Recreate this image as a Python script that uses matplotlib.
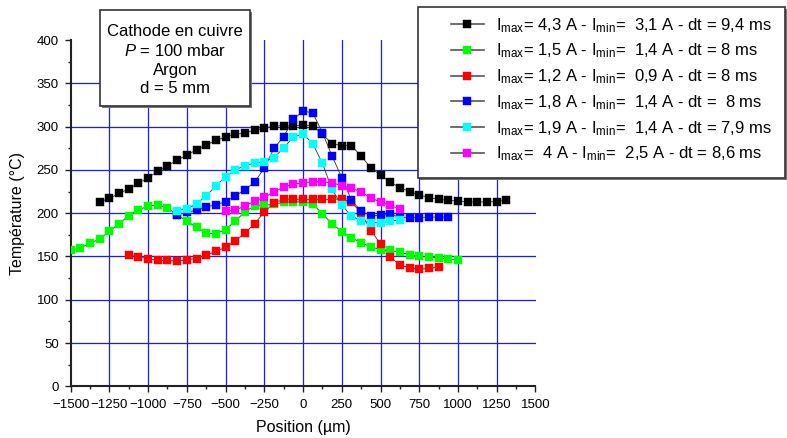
import matplotlib
matplotlib.use("Agg")
from matplotlib import pyplot as plt
from matplotlib.patches import Rectangle

plt.rcParams['font.family'] = ['Liberation Sans', 'DejaVu Sans']
plt.rcParams['mathtext.fontset'] = 'custom'
plt.rcParams['mathtext.rm'] = 'Liberation Sans'
plt.rcParams['mathtext.it'] = 'Liberation Sans:italic'

# measurement positions (um), 62.5 um step
positions = [-1500, -1437.5, -1375, -1312.5, -1250, -1187.5, -1125, -1062.5,
             -1000, -937.5, -875, -812.5, -750, -687.5, -625, -562.5, -500,
             -437.5, -375, -312.5, -250, -187.5, -125, -62.5, 0, 62.5, 125,
             187.5, 250, 312.5, 375, 437.5, 500, 562.5, 625, 687.5, 750,
             812.5, 875, 937.5, 1000, 1062.5, 1125, 1187.5, 1250, 1312.5,
             1375, 1437.5, 1500]

# temperatures (deg C), first position of each series
start_black = -1312.5
temp_black = [213, 217, 223, 228, 234.5, 241, 248.5, 255, 261, 267.5, 273, 279,
              284, 288, 291, 293, 296, 298, 301, 301, 301, 302, 301, 291, 280.5,
              278, 278, 266, 252.5, 244, 236, 229.5, 225, 221, 218, 216, 215,
              214, 213, 213, 213, 213.5, 215]

start_green = -1500
temp_green = [157, 160, 165, 170.5, 179, 188, 197, 204, 208, 209.5, 206, 198,
              191, 183.5, 177, 176.5, 181, 191, 201.5, 208.5, 209, 210.5, 212.5,
              213, 213, 211, 199, 188, 178.5, 171.5, 166, 161, 158, 157, 155,
              152, 150.5, 149.5, 148.5, 147, 146.5]

start_red = -1125
temp_red = [151.5, 149.5, 147.5, 145.5, 145.5, 144.5, 146.5, 147.5, 151.5, 156,
            160.5, 168, 177, 188, 201, 212, 216, 216, 216, 216, 216, 216, 216.5,
            212.5, 200.5, 180, 164.5, 149.5, 140, 137, 135, 136.5, 137.5]

start_blue = -812.5
temp_blue = [198, 201, 203.5, 207.5, 209.5, 213.5, 220, 227, 236, 252, 275,
             288.5, 308.5, 318, 316, 293, 266, 241, 215, 202.5, 197, 197.5,
             198.5, 195.5, 195, 195, 195.5, 195.5, 195.5]

start_cyan = -812.5
temp_cyan = [203, 205, 211, 220, 231.5, 242, 250, 255, 258, 259.5, 264, 275.5,
             288, 291.5, 280.5, 257.5, 227.5, 209, 197, 191, 189, 189, 190.5,
             192.5]

start_magenta = -500
temp_magenta = [202, 203.5, 208.5, 214, 218.5, 224.5, 230.5, 234, 235, 236.5,
                236.5, 235, 232, 229, 224.5, 217.5, 213, 209, 205]

labels = [r'I$_{\rm max}$= 4,3 A - I$_{\rm min}$=  3,1 A - dt = 9,4 ms',
          r'I$_{\rm max}$= 1,5 A - I$_{\rm min}$=  1,4 A - dt = 8 ms',
          r'I$_{\rm max}$= 1,2 A - I$_{\rm min}$=  0,9 A - dt = 8 ms',
          r'I$_{\rm max}$= 1,8 A - I$_{\rm min}$=  1,4 A - dt =  8 ms',
          r'I$_{\rm max}$= 1,9 A - I$_{\rm min}$=  1,4 A - dt = 7,9 ms',
          r'I$_{\rm max}$=  4 A - I$_{\rm min}$=  2,5 A - dt = 8,6 ms']

xticks = [-1500, -1250, -1000, -750, -500, -250, 0, 250, 500, 750, 1000, 1250, 1500]
yticks = [0, 50, 100, 150, 200, 250, 300, 350, 400]

series = [(start_black, temp_black, '#000000'),
          (start_green, temp_green, '#00ff00'),
          (start_red, temp_red, '#ff0000'),
          (start_blue, temp_blue, '#0000ff'),
          (start_cyan, temp_cyan, '#00ffff'),
          (start_magenta, temp_magenta, '#ff00ff')]

W, H = 787, 438
fig = plt.figure(figsize=(W / 100, H / 100), dpi=100)
ax = fig.add_axes([70.6 / W, 1 - 386.3 / H, (535.5 - 70.6) / W, (386.3 - 40.1) / H])

# grid (interior lines only, edges are the axes)
for v in xticks[1:-1]:
    ax.axvline(v, color='#1a1aff', lw=0.9, zorder=0)
for v in yticks[1:-1]:
    ax.axhline(v, color='#1a1aff', lw=0.9, zorder=0)

handles = []
for (start, temps, col), lab in zip(series, labels):
    i0 = positions.index(start)
    xs = positions[i0:i0 + len(temps)]
    ax.plot(xs, temps, color='#333333', lw=0.6, zorder=2)
    ax.plot(xs, temps, ls='none', marker='s', ms=5.6, mfc=col, mec=col,
            mew=0.3, zorder=3)
    h, = ax.plot([], [], color='#555555', lw=1.2, marker='s', ms=5.6,
                 mfc=col, mec=col, mew=0.3)
    h.set_label(lab)
    handles.append(h)

ax.set_xlim(-1500, 1500)
ax.set_ylim(0, 400)
ax.set_xticks(xticks)
ax.set_yticks(yticks)
ax.set_xticks(range(-1375, 1500, 250), minor=True)
ax.set_yticks(range(25, 400, 50), minor=True)
ax.tick_params(which='major', direction='out', length=4.5, width=1,
               labelsize=9.5, color='#222222')
ax.tick_params(axis='x', which='major', pad=5)
ax.tick_params(axis='y', which='major', pad=4)
ax.tick_params(which='minor', direction='out', length=2.5, width=1,
               color='#222222')
for s in ['top', 'right']:
    ax.spines[s].set_visible(False)
for s in ['left', 'bottom']:
    ax.spines[s].set_linewidth(1.5)
    ax.spines[s].set_color('#222222')

ax.set_xlabel('Position (µm)', fontsize=11.5, labelpad=6)
ax.set_ylabel('Température (°C)', fontsize=11.5, labelpad=8)

# legend frame drawn by hand (Origin style, off-centre padding)
fig.patches.append(Rectangle((419.5 / W, 1 - 179.5 / H), 367 / W, 171 / H,
                             transform=fig.transFigure, facecolor='#777777',
                             edgecolor='none', zorder=4))
fig.patches.append(Rectangle((418 / W, 1 - 178 / H), 367 / W, 171 / H,
                             transform=fig.transFigure, facecolor='white',
                             edgecolor='#333333', lw=1.2, zorder=5))
leg = fig.legend(handles=handles, loc='upper left',
                 bbox_to_anchor=(451 / W, 1 - 16 / H), frameon=False,
                 borderpad=0, borderaxespad=0, fontsize=12,
                 handlelength=1.95, handletextpad=0.75, labelspacing=0.42)
leg.set_zorder(6)

# annotation box
fig.patches.append(Rectangle((101.5 / W, 1 - 107.5 / H), 150 / W, 96 / H,
                             transform=fig.transFigure, facecolor='#777777',
                             edgecolor='none', zorder=4))
fig.patches.append(Rectangle((100 / W, 1 - 106 / H), 150 / W, 96 / H,
                             transform=fig.transFigure, facecolor='white',
                             edgecolor='#333333', lw=1.2, zorder=5))
fig.text(175 / W, 1 - 60 / H,
         'Cathode en cuivre\n$\\mathit{P}$ = 100 mbar\nArgon\nd = 5 mm',
         ha='center', va='center', multialignment='center', fontsize=12,
         linespacing=1.32, zorder=6)

fig.savefig('out.png', dpi=100)
